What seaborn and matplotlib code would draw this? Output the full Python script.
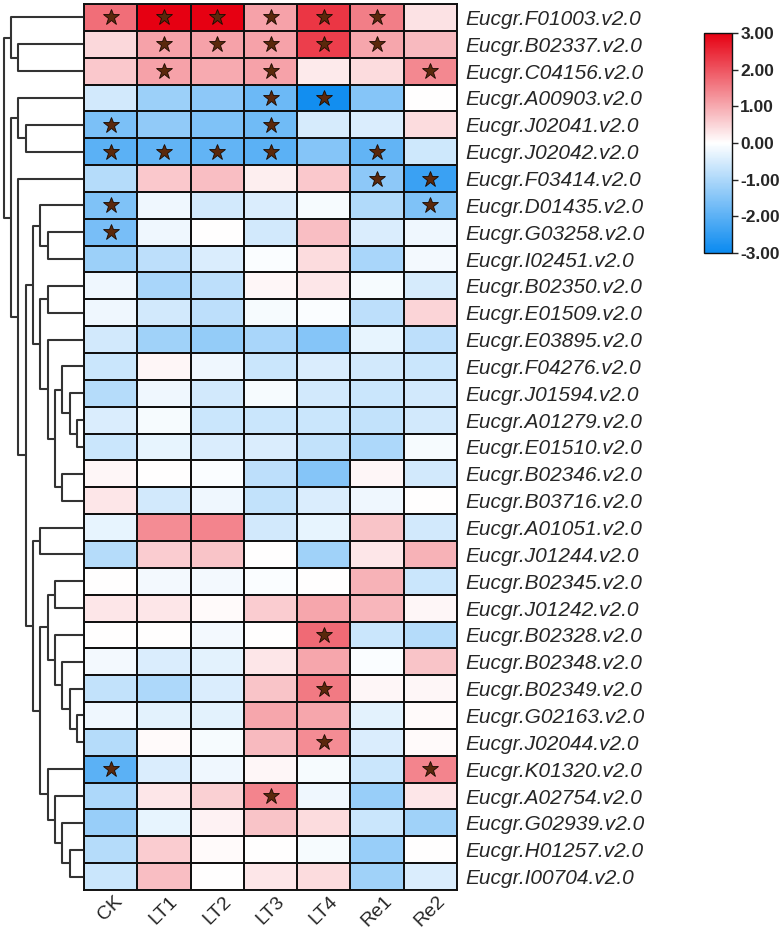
import numpy as np
import pandas as pd
import matplotlib
matplotlib.use("Agg")
import matplotlib.pyplot as plt
from matplotlib.colors import LinearSegmentedColormap
import seaborn as sns

genes = ["Eucgr.F01003.v2.0", "Eucgr.B02337.v2.0", "Eucgr.C04156.v2.0", "Eucgr.A00903.v2.0",
         "Eucgr.J02041.v2.0", "Eucgr.J02042.v2.0", "Eucgr.F03414.v2.0", "Eucgr.D01435.v2.0",
         "Eucgr.G03258.v2.0", "Eucgr.I02451.v2.0", "Eucgr.B02350.v2.0", "Eucgr.E01509.v2.0",
         "Eucgr.E03895.v2.0", "Eucgr.F04276.v2.0", "Eucgr.J01594.v2.0", "Eucgr.A01279.v2.0",
         "Eucgr.E01510.v2.0", "Eucgr.B02346.v2.0", "Eucgr.B03716.v2.0", "Eucgr.A01051.v2.0",
         "Eucgr.J01244.v2.0", "Eucgr.B02345.v2.0", "Eucgr.J01242.v2.0", "Eucgr.B02328.v2.0",
         "Eucgr.B02348.v2.0", "Eucgr.B02349.v2.0", "Eucgr.G02163.v2.0", "Eucgr.J02044.v2.0",
         "Eucgr.K01320.v2.0", "Eucgr.A02754.v2.0", "Eucgr.G02939.v2.0", "Eucgr.H01257.v2.0",
         "Eucgr.I00704.v2.0"]

conditions = ["CK", "LT1", "LT2", "LT3", "LT4", "Re1", "Re2"]

values = [
    [1.7, 3.0, 3.0, 1.1, 2.35, 1.5, 0.35],
    [0.45, 1.1, 1.1, 1.1, 2.25, 1.05, 0.8],
    [0.65, 1.1, 1.0, 1.1, 0.25, 0.4, 1.4],
    [-0.55, -1.2, -1.4, -1.8, -2.9, -1.5, 0.0],
    [-1.6, -1.35, -1.55, -1.75, -0.5, -0.45, 0.4],
    [-2.0, -1.9, -1.9, -2.0, -1.5, -1.9, -0.6],
    [-0.9, 0.65, 0.75, 0.2, 0.65, -1.4, -2.4],
    [-1.55, -0.2, -0.55, -0.45, -0.1, -0.95, -1.55],
    [-1.65, -0.2, 0.0, -0.55, 0.75, -0.45, -0.2],
    [-1.2, -0.8, -0.45, -0.05, 0.4, -1.05, -0.15],
    [-0.2, -1.05, -0.8, 0.1, 0.3, -0.1, -0.5],
    [-0.2, -0.55, -0.8, -0.1, -0.05, -0.8, 0.5],
    [-0.55, -1.15, -1.3, -1.05, -1.5, -0.3, -0.8],
    [-0.65, 0.1, -0.2, -0.65, -0.45, -0.55, -0.65],
    [-0.9, -0.2, -0.55, -0.1, -0.55, -0.65, -0.55],
    [-0.45, -0.1, -0.65, -0.65, -0.65, -0.75, -0.55],
    [-0.65, -0.3, -0.45, -0.45, -0.75, -1.0, -0.1],
    [0.1, 0.0, -0.05, -0.8, -1.5, 0.1, -0.55],
    [0.3, -0.55, -0.2, -0.75, -0.45, -0.2, 0.0],
    [-0.3, 1.35, 1.45, -0.55, -0.3, 0.7, -0.55],
    [-0.9, 0.6, 0.7, 0.0, -1.15, 0.3, 0.9],
    [0.0, -0.15, -0.15, -0.05, 0.0, 0.9, -0.65],
    [0.3, 0.3, 0.05, 0.6, 1.05, 0.85, 0.1],
    [0.0, 0.0, -0.15, 0.0, 1.75, -0.65, -0.9],
    [-0.15, -0.45, -0.35, 0.3, 1.05, -0.05, 0.7],
    [-0.75, -1.0, -0.45, 0.7, 1.55, 0.1, 0.1],
    [-0.2, -0.35, -0.35, 1.05, 1.05, -0.35, 0.05],
    [-0.9, 0.05, -0.1, 0.8, 1.35, -0.45, 0.05],
    [-2.0, -0.45, -0.2, 0.1, -0.1, -0.65, 1.45],
    [-1.0, 0.3, 0.55, 1.45, -0.2, -1.25, 0.3],
    [-1.25, -0.3, 0.15, 0.7, 0.4, -0.65, -1.15],
    [-0.9, 0.6, 0.05, 0.0, -0.1, -1.25, 0.0],
    [-0.65, 0.75, 0.0, 0.3, 0.4, -1.15, -0.45],
]

significant = [
    ["CK", "LT1", "LT2", "LT3", "LT4", "Re1"],
    ["LT1", "LT2", "LT3", "LT4", "Re1"],
    ["LT1", "LT3", "Re2"],
    ["LT3", "LT4"],
    ["CK", "LT3"],
    ["CK", "LT1", "LT2", "LT3", "Re1"],
    ["Re1", "Re2"],
    ["CK", "Re2"],
    ["CK"],
    [], [], [], [], [], [], [], [], [], [], [], [], [], [],
    ["LT4"],
    [],
    ["LT4"],
    [],
    ["LT4"],
    ["CK", "Re2"],
    ["LT3"],
    [], [], [],
]

# row linkage (scipy style: left, right, height); ids >= n are earlier merges
row_linkage = [
    (1, 2, 65.3), (0, 33, 72.0), (4, 5, 57.3), (3, 35, 65.3),
    (8, 9, 35.3), (7, 37, 43.0), (10, 11, 35.3), (15, 16, 6.0),
    (14, 40, 13.0), (13, 41, 21.0), (17, 18, 21.0), (42, 43, 28.0),
    (12, 44, 35.3), (39, 45, 43.0), (38, 46, 50.3), (19, 20, 43.0),
    (21, 22, 28.0), (26, 27, 6.0), (25, 50, 13.0), (24, 51, 21.0),
    (23, 52, 28.0), (49, 53, 35.3), (31, 32, 13.0), (30, 55, 21.0),
    (29, 56, 28.0), (28, 57, 35.3), (54, 58, 43.0), (48, 59, 50.3),
    (47, 60, 57.3), (6, 61, 65.3), (36, 62, 72.0), (34, 63, 79.0),
]

sns.set_style("white")
plt.rcParams["font.family"] = ["Liberation Sans", "DejaVu Sans"]

df = pd.DataFrame(values, index=genes, columns=conditions)
cmap = LinearSegmentedColormap.from_list("bwr_custom", ["#0A8AF0", "#FFFFFF", "#E60012"])

W, H = 782, 931
fig = plt.figure(figsize=(W / 100, H / 100), dpi=100)
hm_l, hm_r, hm_t, hm_b = 84, 457, 4, 890
ax = fig.add_axes([hm_l / W, 1 - hm_b / H, (hm_r - hm_l) / W, (hm_b - hm_t) / H])
dax = fig.add_axes([0, 1 - hm_b / H, hm_l / W, (hm_b - hm_t) / H])
cax = fig.add_axes([704 / W, 1 - 253 / H, 28 / W, 220 / H])

sns.heatmap(df, ax=ax, cmap=cmap, vmin=-3, vmax=3, linewidths=1.4, linecolor="#111111",
            cbar_ax=cax, cbar_kws={"ticks": [-3, -2, -1, 0, 1, 2, 3], "format": "%.2f"})

# stars
for i, g in enumerate(genes):
    for c in significant[i]:
        j = conditions.index(c)
        ax.plot(j + 0.5, i + 0.5, marker="*", markersize=12, color="#5a280c",
                markeredgecolor="#1a0a00", markeredgewidth=0.6)

ax.yaxis.tick_right()
ax.set_yticks(np.arange(len(genes)) + 0.5)
ax.set_yticklabels(genes, rotation=0, fontsize=15, fontstyle="italic")
ax.set_xticks(np.arange(len(conditions)) + 0.5)
ax.set_xticklabels(conditions, rotation=45, ha="center", fontsize=14)
ax.tick_params(axis="both", length=0)
ax.tick_params(axis="y", pad=6)
ax.tick_params(axis="x", pad=2)
ax.set_xlabel("")
ax.set_ylabel("")
for s in ax.spines.values():
    s.set_visible(True)
    s.set_color("#111111")
    s.set_linewidth(1.4)

# colorbar
cbar = ax.collections[0].colorbar
cbar.outline.set_edgecolor("#111111")
cbar.outline.set_linewidth(1.0)
cax.tick_params(length=4, width=1, labelsize=12.5, pad=2)
for t in cax.get_yticklabels():
    t.set_fontweight("bold")

# dendrogram
n = len(genes)
pos = {i: i + 0.5 for i in range(n)}
hgt = {i: 0.0 for i in range(n)}
for k, (a, b, h) in enumerate(row_linkage):
    node = n + k
    dax.plot([hgt[a], h, h, hgt[b]], [pos[a], pos[a], pos[b], pos[b]],
             color="#333333", lw=1.5, solid_capstyle="butt")
    pos[node] = (pos[a] + pos[b]) / 2
    hgt[node] = h
dax.set_ylim(n, 0)
dax.set_xlim(83, -1)
dax.axis("off")

fig.savefig("out.png", dpi=100, facecolor="white")
